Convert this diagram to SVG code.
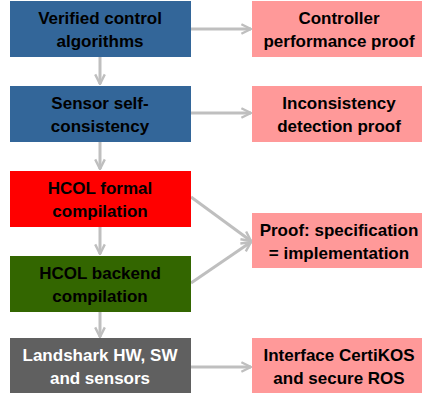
<svg xmlns="http://www.w3.org/2000/svg" width="422" height="398" viewBox="0 0 422 398">
<style>
text{font-family:"Liberation Sans",Arial,sans-serif;font-weight:bold;font-size:17px;text-anchor:middle;fill:#000}
.w{fill:#fff}
.c{stroke:#bfbfbf;stroke-width:3;fill:none}
</style>
<defs>
<marker id="ah" viewBox="0 0 10 10" refX="9" refY="5" markerWidth="4" markerHeight="4" orient="auto" markerUnits="strokeWidth">
<path d="M1,1 L9,5 L1,9" fill="none" stroke="#bfbfbf" stroke-width="2"/>
</marker>
</defs>
<g id="connectors">
<line class="c" x1="100" y1="57" x2="100" y2="84" marker-end="url(#ah)"/>
<line class="c" x1="100" y1="142" x2="100" y2="169" marker-end="url(#ah)"/>
<line class="c" x1="100" y1="227" x2="100" y2="254" marker-end="url(#ah)"/>
<line class="c" x1="100" y1="312" x2="100" y2="337" marker-end="url(#ah)"/>
<line class="c" x1="191" y1="29" x2="251" y2="29" marker-end="url(#ah)"/>
<line class="c" x1="191" y1="113" x2="251" y2="113" marker-end="url(#ah)"/>
<line class="c" x1="191" y1="197" x2="251" y2="241" marker-end="url(#ah)"/>
<line class="c" x1="191" y1="283" x2="251" y2="242" marker-end="url(#ah)"/>
<line class="c" x1="191" y1="367" x2="251" y2="367" marker-end="url(#ah)"/>
</g>
<g id="n1"><rect x="10" y="1" width="181" height="56" fill="#336699"/><text x="100" y="24">Verified control</text><text x="100" y="47">algorithms</text></g>
<g id="n2"><rect x="10" y="86" width="181" height="56" fill="#336699"/><text x="100" y="109">Sensor self-</text><text x="100" y="132">consistency</text></g>
<g id="n3"><rect x="10" y="171" width="181" height="56" fill="#ff0000"/><text x="100" y="194">HCOL formal</text><text x="100" y="217">compilation</text></g>
<g id="n4"><rect x="10" y="256" width="181" height="56" fill="#336600"/><text x="100" y="279">HCOL backend</text><text x="100" y="302">compilation</text></g>
<g id="n5"><rect x="10" y="338" width="181" height="55" fill="#606060"/><text class="w" x="100" y="361">Landshark HW, SW</text><text class="w" x="100" y="384">and sensors</text></g>
<g id="r1"><rect x="252" y="1" width="170" height="56" fill="#ff9999"/><text x="339" y="24">Controller</text><text x="339" y="47">performance proof</text></g>
<g id="r2"><rect x="252" y="86" width="170" height="56" fill="#ff9999"/><text x="339" y="109">Inconsistency</text><text x="339" y="132">detection proof</text></g>
<g id="r3"><rect x="252" y="213" width="170" height="55" fill="#ff9999"/><text x="339" y="236">Proof: specification</text><text x="339" y="259">= implementation</text></g>
<g id="r4"><rect x="252" y="338" width="170" height="55" fill="#ff9999"/><text x="339" y="361">Interface CertiKOS</text><text x="339" y="384">and secure ROS</text></g>
</svg>
